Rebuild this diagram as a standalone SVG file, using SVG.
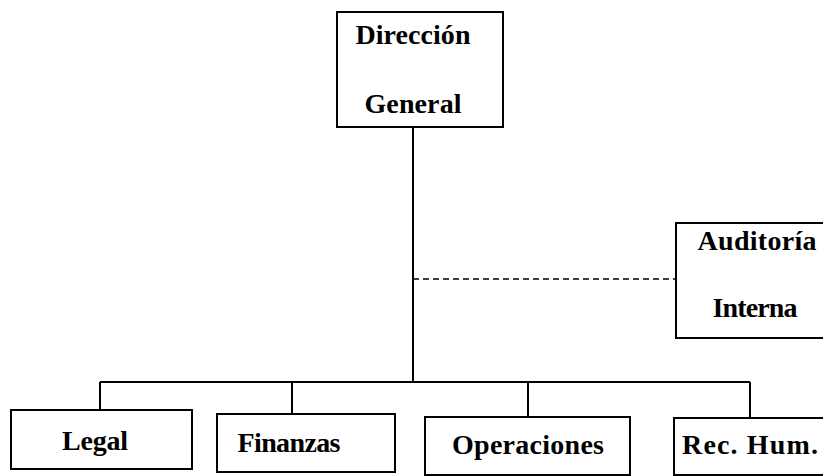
<svg xmlns="http://www.w3.org/2000/svg" width="823" height="476" viewBox="0 0 823 476">
<style>
.box{fill:#fff;stroke:#000;stroke-width:2}
.t{font-family:"Liberation Serif","Times New Roman",serif;font-weight:bold;font-size:28px;fill:#000;text-anchor:middle}
.ln{stroke:#000;stroke-width:2;fill:none}
.dash{stroke:#000;stroke-width:1.5;fill:none;stroke-dasharray:6 4}
</style>
<rect width="823" height="476" fill="#fff"/>
<g id="connectors">
<path class="ln" d="M413 127V382M100 382H750M100 382V410M292 382V414M528 382V417M750 382V418"/>
<path class="dash" d="M413 279H676"/>
</g>
<g id="direccion">
<rect class="box" x="337" y="12" width="166" height="115"/>
<text class="t" x="413" y="44" textLength="115" lengthAdjust="spacing">Dirección</text>
<text class="t" x="413" y="113" textLength="97" lengthAdjust="spacing">General</text>
</g>
<g id="auditoria">
<rect class="box" x="676" y="223" width="160" height="115"/>
<text class="t" x="757" y="250" textLength="119" lengthAdjust="spacing">Auditoría</text>
<text class="t" x="755" y="317" textLength="85" lengthAdjust="spacing">Interna</text>
</g>
<g id="legal">
<rect class="box" x="11" y="410" width="181" height="59"/>
<text class="t" x="95" y="450" textLength="66" lengthAdjust="spacing">Legal</text>
</g>
<g id="finanzas">
<rect class="box" x="217" y="414" width="178" height="58"/>
<text class="t" x="289" y="452" textLength="103" lengthAdjust="spacing">Finanzas</text>
</g>
<g id="operaciones">
<rect class="box" x="425" y="417" width="205" height="58"/>
<text class="t" x="528" y="454" textLength="152" lengthAdjust="spacing">Operaciones</text>
</g>
<g id="rechum">
<rect class="box" x="674" y="418" width="160" height="57"/>
<text class="t" x="750" y="454" textLength="136" lengthAdjust="spacing">Rec. Hum.</text>
</g>
</svg>
